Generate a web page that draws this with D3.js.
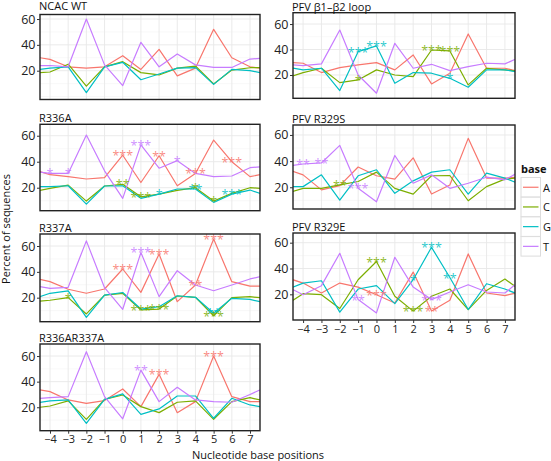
<!DOCTYPE html>
<html><head><meta charset="utf-8">
<script src="https://cdn.jsdelivr.net/npm/d3@7"></script>
<style>
body{margin:0;background:#fff;}
svg{font-family:"Open Sans",sans-serif;}
</style></head>
<body><svg id="chart" width="551" height="461"></svg>
<script>
// ---------- data ----------
const positions = [-5,-4,-3,-2,-1,0,1,2,3,4,5,6,7,8];
const tickLabels = [-4,-3,-2,-1,0,1,2,3,4,5,6,7];
const yTicks = [20,40,60];
const bases = ["A","C","G","T"];
const baseColors = ["#F8766D","#7CAE00","#00BFC4","#C77CFF"];
const panelNames = ["NCAC WT","R336A","R337A","R336AR337A","PFV β1–β2 loop","PFV R329S","PFV R329E"];

const ncacA = [31,28.8,23,22,23,31.6,21,36.5,16,22,52,30,23,21.2];
const ncacC = [18.1,19,25,8,23,27,18.5,16.7,22,23.6,9.7,20.5,22.3,22.3];
const ncacG = [20.2,22,23,3,23,26.5,13,17.4,22,22.4,9.4,21,20,17.3];
const ncacT = [24,24,23,60,24.5,8.5,42,23,33,24.5,22.5,22.5,29,30];

const r336aA = [34.2,30,28.5,26.7,27.7,45,24,44.6,21.5,31,56.7,40,28.5,31.2];
const r336aC = [16.8,19.5,22,9.7,21.3,22.6,13,15,18,20,9.7,15.6,20,19.1];
const r336aG = [20.8,20.8,21.5,7.4,21.3,21.5,11.8,15,19,19,8.7,15,18.2,13.5];
const r336aT = [32.8,31,31,60.5,33,11.8,53,35,40.8,31,28.5,29,35.4,36.5];

const r337aA = [35.7,32.4,26.5,23.4,26.7,42.2,24.1,53.8,16.9,29.8,65.4,32.4,29,29];
const r337aC = [16.9,18,20,7.4,22,23.4,10.5,11.2,21.3,20.3,6,20,20.8,19.3];
const r337aG = [18.7,23.4,25.2,4.8,22,24,11.2,13,21.5,20.3,8,19.5,18.7,15.4];
const r337aT = [29.6,27.2,28,64,27.7,11,55,20.8,40.9,29.8,25.4,29.8,34.5,37.8];

const dblA = [34.6,32.2,25.7,23.1,25.2,34.3,20.5,45.7,15.8,24.4,60,28.3,24.4,24.4];
const dblC = [19.2,21,25,10.6,26.2,29.6,20.5,15.8,23.9,25,10.6,24.4,27.5,24.2];
const dblG = [23,25,25.7,7.5,26.2,30.4,14.5,18.7,28.8,28.8,11.4,27,21.8,19.4];
const dblT = [26.6,27.5,28.3,63.4,28.3,11,49,24.4,35.6,25.7,24.4,23.9,30,36.4];

const loopA = [30.1,29.2,21.9,25.8,27.9,29.7,24,35.7,13,21.4,52.2,25.3,25.3,21.8];
const loopC = [17.2,21.9,25.3,14,16.1,24,20,18.7,39.6,38.9,12.2,25.3,24,22.5];
const loopG = [26.4,24,25.3,7.8,38.3,42.8,13.5,21.9,21.4,17.4,10.4,24,24,21.6];
const loopT = [28.3,27.4,28.7,55.3,20,5.7,44.9,25.3,28.4,23.4,26.6,29.2,28.7,35.2];

const r329sA = [34.2,29.5,18,21.3,35.5,28.8,26.2,42.5,14.8,21.8,57.4,27,27,28];
const r329sC = [14.9,19.2,19.2,21.8,24.4,31.6,19.2,14.8,28.8,29,9.7,20.5,26.2,27.7];
const r329sG = [20.5,20.5,29.5,10.2,28.8,33.4,15.4,24.9,31.6,33.4,14.8,30.8,27,21.5];
const r329sT = [36,37.8,38.6,52,19.2,8.9,44.3,23.1,29.5,19.2,23.1,27.7,25.7,33.5];

const r329eA = [33.4,28.7,21,28.7,25.6,19.7,13.3,37.2,7,15.4,51.3,21,19,22.6];
const r329eC = [11.2,20.5,19.7,9,31.3,45.4,18.5,7,18.5,24.1,8.2,23,31.8,21.6];
const r329eG = [23,28.7,30.5,6.2,24.1,26.7,12.8,31.3,56.4,33,8.2,28.2,24.1,18.5];
const r329eT = [26.8,19.7,26.7,51.8,15.9,5.6,48.7,25.6,15.9,21.8,27.4,21.8,21,32.6];

// significance labels: [panel, base, position, label]
const stars = [
  ["R336A","T",-4,"*"],["R336A","T",-3,"*"],["R336A","A",0,"***"],["R336A","T",1,"***"],
  ["R336A","A",2,"**"],["R336A","T",3,"*"],["R336A","A",4,"***"],["R336A","A",6,"***"],
  ["R336A","C",0,"**"],["R336A","C",1,"***"],["R336A","G",2,"*"],["R336A","C",4,"*"],
  ["R336A","G",4,"**"],["R336A","C",5,"*"],["R336A","G",6,"***"],
  ["R337A","A",0,"***"],["R337A","T",1,"***"],["R337A","A",2,"***"],["R337A","A",4,"**"],
  ["R337A","A",5,"***"],["R337A","C",-3,"*"],["R337A","C",1,"***"],["R337A","C",2,"***"],
  ["R337A","G",5,"**"],["R337A","C",5,"***"],
  ["R336AR337A","T",1,"**"],["R336AR337A","A",2,"***"],["R336AR337A","A",5,"***"],
  ["PFV β1–β2 loop","G",-1,"***"],["PFV β1–β2 loop","G",0,"***"],["PFV β1–β2 loop","C",-1,"*"],
  ["PFV β1–β2 loop","C",3,"***"],["PFV β1–β2 loop","C",4,"***"],["PFV β1–β2 loop","G",4,"*"],
  ["PFV R329S","T",-4,"**"],["PFV R329S","T",-3,"**"],["PFV R329S","C",-2,"**"],["PFV R329S","T",-1,"***"],
  ["PFV R329E","C",0,"***"],["PFV R329E","G",3,"***"],["PFV R329E","G",4,"**"],["PFV R329E","G",2,"*"],
  ["PFV R329E","T",-1,"**"],["PFV R329E","A",0,"***"],["PFV R329E","C",2,"***"],["PFV R329E","T",3,"***"],
  ["PFV R329E","A",3,"**"]
];

const panelSeries = {
  "NCAC WT":[ncacA,ncacC,ncacG,ncacT],
  "R336A":[r336aA,r336aC,r336aG,r336aT],
  "R337A":[r337aA,r337aC,r337aG,r337aT],
  "R336AR337A":[dblA,dblC,dblG,dblT],
  "PFV β1–β2 loop":[loopA,loopC,loopG,loopT],
  "PFV R329S":[r329sA,r329sC,r329sG,r329sT],
  "PFV R329E":[r329eA,r329eC,r329eG,r329eT]
};

// ---------- layout ----------
const layout = {
  "NCAC WT":        {x0:40,x1:260,top:14.5,bottom:99.5,titleY:9.5,yDomain:[-2.3,63.5],xAxis:false},
  "R336A":          {x0:40,x1:260,top:124.3,bottom:210.7,titleY:121.5,yDomain:[2.3,68.8],xAxis:false},
  "R337A":          {x0:40,x1:260,top:234,bottom:321.7,titleY:231.5,yDomain:[1.4,69.3],xAxis:false},
  "R336AR337A":     {x0:40,x1:260,top:344,bottom:430.7,titleY:341.5,yDomain:[1.7,69.4],xAxis:true},
  "PFV β1–β2 loop": {x0:293,x1:515,top:12.7,bottom:98.3,titleY:10.5,yDomain:[1.7,68.9],xAxis:false},
  "PFV R329S":      {x0:293,x1:515,top:125,bottom:209,titleY:122.5,yDomain:[3.4,67.6],xAxis:false},
  "PFV R329E":      {x0:293,x1:515,top:233,bottom:320,titleY:230.5,yDomain:[0.1,67.5],xAxis:true}
};

const svg = d3.select("#chart");
const colorScale = d3.scaleOrdinal().domain(bases).range(baseColors);

panelNames.forEach((name, pi) => {
  const L = layout[name];
  const x = d3.scaleLinear().domain([-4.55, 7.55]).range([L.x0, L.x1]);
  const y = d3.scaleLinear().domain(L.yDomain).range([L.bottom, L.top]);
  const g = svg.append("g");
  const clipId = "clip" + pi;
  g.append("clipPath").attr("id", clipId).append("rect")
    .attr("x", L.x0).attr("y", L.top).attr("width", L.x1 - L.x0).attr("height", L.bottom - L.top);

  g.append("rect").attr("x", L.x0).attr("y", L.top).attr("width", L.x1 - L.x0)
    .attr("height", L.bottom - L.top).attr("fill", "#fff");

  // grid
  const minorY = [0,10,30,50].filter(v => v > L.yDomain[0] && v < L.yDomain[1]);
  g.selectAll(".gmy").data(minorY).enter().append("line")
    .attr("x1", L.x0).attr("x2", L.x1).attr("y1", d => y(d)).attr("y2", d => y(d))
    .attr("stroke", "#f3f3f3").attr("stroke-width", 0.6);
  g.selectAll(".gy").data(yTicks).enter().append("line")
    .attr("x1", L.x0).attr("x2", L.x1).attr("y1", d => y(d)).attr("y2", d => y(d))
    .attr("stroke", "#e8e8e8").attr("stroke-width", 0.9);
  g.selectAll(".gx").data(tickLabels).enter().append("line")
    .attr("y1", L.top).attr("y2", L.bottom).attr("x1", d => x(d)).attr("x2", d => x(d))
    .attr("stroke", "#e8e8e8").attr("stroke-width", 0.9);

  // lines
  const lineGen = d3.line().x((d, i) => x(positions[i])).y(d => y(d));
  const lg = g.append("g").attr("clip-path", `url(#${clipId})`);
  panelSeries[name].forEach((vals, si) => {
    lg.append("path").datum(vals).attr("d", lineGen)
      .attr("fill", "none").attr("stroke", colorScale(bases[si]))
      .attr("stroke-width", 1.2).attr("stroke-linejoin", "round");
  });

  // stars
  const ps = stars.filter(s => s[0] === name);
  lg.selectAll(".star").data(ps).enter().append("text")
    .attr("x", d => x(d[2]))
    .attr("y", d => y(panelSeries[name][bases.indexOf(d[1])][positions.indexOf(d[2])]) + 5)
    .attr("text-anchor", "middle")
    .attr("font-size", 12.5)
    .attr("fill", d => colorScale(d[1]))
    .attr("fill-opacity", 0.85)
    .text(d => d[3]);

  // border
  g.append("rect").attr("x", L.x0).attr("y", L.top).attr("width", L.x1 - L.x0)
    .attr("height", L.bottom - L.top).attr("fill", "none")
    .attr("stroke", "#222").attr("stroke-width", 1.4);

  // y axis
  const yAxis = d3.axisLeft(y).tickValues(yTicks).tickSize(3).tickPadding(1.5);
  const ya = g.append("g").attr("transform", `translate(${L.x0},0)`).call(yAxis);
  ya.select(".domain").remove();
  ya.selectAll("text").attr("font-size", 12.5).attr("fill", "#222").attr("font-family", "Open Sans");
  ya.selectAll("line").attr("stroke", "#333");

  if (L.xAxis) {
    const xAxis = d3.axisBottom(x).tickValues(tickLabels).tickSize(3).tickPadding(2);
    const xa = g.append("g").attr("transform", `translate(0,${L.bottom})`).call(xAxis);
    xa.select(".domain").remove();
    xa.selectAll("text").attr("font-size", 11).attr("fill", "#222").attr("font-family", "Open Sans");
    xa.selectAll("line").attr("stroke", "#333");
  }

  // title
  g.append("text").attr("x", L.x0 - 1).attr("y", L.titleY)
    .attr("font-size", 11).attr("fill", "#111").text(name);
});

// axis titles
svg.append("text").attr("x", 258).attr("y", 459).attr("text-anchor", "middle")
  .attr("font-size", 11).attr("fill", "#111").text("Nucleotide base positions");
svg.append("text").attr("transform", "translate(10,229) rotate(-90)").attr("text-anchor", "middle")
  .attr("font-size", 11).attr("fill", "#111").text("Percent of sequences");

// legend
const leg = svg.append("g");
leg.append("text").attr("x", 521).attr("y", 173).attr("font-size", 11)
  .attr("font-weight", "bold").attr("fill", "#111").text("base");
bases.forEach((b, i) => {
  const ky = 177.5 + i * 19.7;
  leg.append("rect").attr("x", 521).attr("y", ky).attr("width", 19.5).attr("height", 19.5)
    .attr("fill", "#fff").attr("stroke", "#dcdcdc").attr("stroke-width", 1);
  leg.append("line").attr("x1", 523).attr("x2", 538.5).attr("y1", ky + 9.75).attr("y2", ky + 9.75)
    .attr("stroke", colorScale(b)).attr("stroke-width", 1.2);
  leg.append("text").attr("x", 543).attr("y", ky + 14).attr("font-size", 11)
    .attr("fill", "#111").text(b);
});
</script></body></html>
